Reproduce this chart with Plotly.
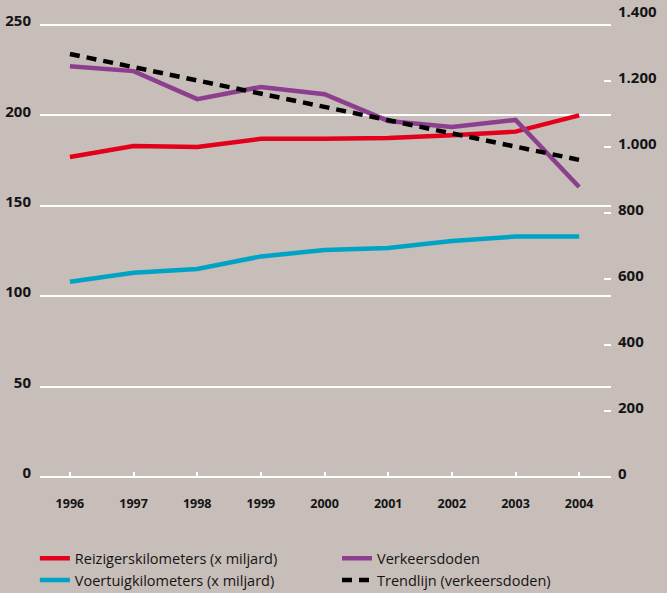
import plotly.graph_objects as go

years = [1996, 1997, 1998, 1999, 2000, 2001, 2002, 2003, 2004]
reizigers = [177, 183, 182.5, 187, 187, 187.5, 189, 191, 200]
voertuig = [108, 113, 115, 122, 125.5, 126.7, 130.5, 133, 133]
verkeersdoden = [1245, 1230, 1145, 1182, 1160, 1079, 1061, 1082, 879]
trendlijn = [1282, 1242, 1202, 1162, 1121, 1081, 1041, 1001, 961]

left_ticks = [0, 50, 100, 150, 200, 250]
right_ticks = [0, 200, 400, 600, 800, 1000, 1200, 1400]
right_labels = ["0", "200", "400", "600", "800", "1.000", "1.200", "1.400"]

BG = "#c7bdb9"
RED = "#e2001a"
PURPLE = "#8c3f8f"
BLUE = "#00a3c4"
TXT = "#141414"
FONT = "Open Sans"

fig = go.Figure()
fig.add_trace(go.Scatter(x=years, y=voertuig, mode="lines", name="Voertuigkilometers (x miljard)",
                         line=dict(color=BLUE, width=4.5), legendrank=2, legend="legend", yaxis="y"))
fig.add_trace(go.Scatter(x=years, y=reizigers, mode="lines", name="Reizigerskilometers (x miljard)",
                         line=dict(color=RED, width=4.5), legendrank=1, legend="legend", yaxis="y"))
fig.add_trace(go.Scatter(x=years, y=verkeersdoden, mode="lines", name="Verkeersdoden",
                         line=dict(color=PURPLE, width=4.5), legendrank=1, legend="legend2", yaxis="y2"))
fig.add_trace(go.Scatter(x=years, y=trendlijn, mode="lines", name="Trendlijn (verkeersdoden)",
                         line=dict(color="black", width=4.5, dash="10px,7px"), legendrank=2, legend="legend2",
                         yaxis="y2"))

legend_common = dict(orientation="v", yanchor="top", xanchor="left", itemwidth=30,
                     font=dict(size=14.5, family=FONT, color=TXT), bgcolor="rgba(0,0,0,0)",
                     tracegroupgap=0, traceorder="normal")

fig.update_layout(
    width=667, height=593,
    paper_bgcolor=BG, plot_bgcolor=BG,
    margin=dict(l=40, r=56, t=15, b=116, autoexpand=False),
    font=dict(family=FONT, color=TXT),
    xaxis=dict(range=[1995.53, 2004.5], tickvals=years, ticktext=[str(y) for y in years],
               showgrid=False, zeroline=False, showline=False,
               ticks="inside", ticklen=5, tickwidth=2, tickcolor="white",
               tickfont=dict(size=12.5, family=FONT, weight="bold", color=TXT),
               ticklabelstandoff=17),
    yaxis=dict(range=[0, 255.5], tickvals=left_ticks, showgrid=True, gridcolor="white", gridwidth=2,
               zeroline=True, zerolinecolor="white", zerolinewidth=2, showline=False,
               ticks="", tickfont=dict(size=15, family=FONT, weight="bold", color=TXT),
               ticklabelstandoff=8, ticklabelshift=-4),
    yaxis2=dict(range=[0, 1400], overlaying="y", side="right", tickvals=right_ticks, ticktext=right_labels,
                showgrid=False, zeroline=False, showline=False,
                ticks="inside", ticklen=7, tickwidth=2, tickcolor="white",
                tickfont=dict(size=15, family=FONT, weight="bold", color=TXT),
                ticklabelstandoff=6, ticklabelshift=-3),
    showlegend=True,
    legend=dict(x=-0.009, y=-0.1413, **legend_common),
    legend2=dict(x=(342 - 45) / 571, y=-0.1413, **legend_common),
)

fig.write_html("out.html", config={"displayModeBar": False},
               post_script="document.body.style.margin='0';")
